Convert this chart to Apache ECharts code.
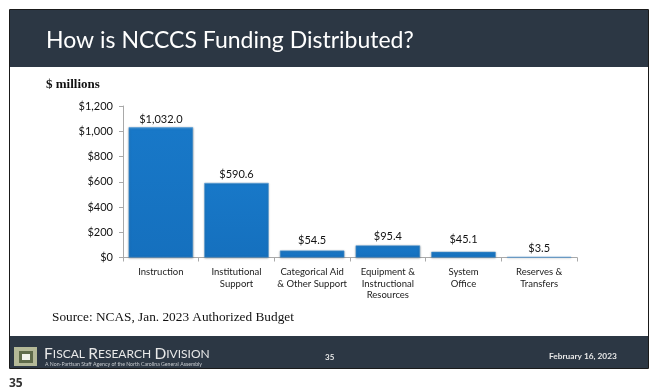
<!DOCTYPE html>
<html>
<head>
    <meta charset="utf-8">
    <title>How is NCCCS Funding Distributed?</title>
    <script src="https://cdn.jsdelivr.net/npm/echarts@6/dist/echarts.min.js"></script>
    <style>
        body, html { margin: 0; padding: 0; width: 100%; height: 100%; overflow: hidden; background: #fff; }
        #main { width: 658px; height: 391px; }
    </style>
</head>
<body>
    <div id="main"></div>
    <script>
        var myChart = echarts.init(document.getElementById('main'));

        const categories = ['Instruction', 'Institutional\nSupport', 'Categorical Aid\n& Other Support',
            'Equipment &\nInstructional\nResources', 'System\nOffice', 'Reserves &\nTransfers'];
        const funding = [1032.0, 590.6, 54.5, 95.4, 45.1, 3.5];
        const yTicks = { min: 0, max: 1200, interval: 200 };
        // labels were hand placed on the slide, so the gap differs per bar
        const labelGaps = [2, 2.5, 5, 3.5, 7, 3];

        const navy = '#2c3744';
        const gill = 'Lato, "Open Sans", sans-serif';
        const serif = '"Liberation Serif", serif';

        function money(v) {
            return '$' + v.toLocaleString('en-US');
        }

        const option = {
            backgroundColor: '#fff',
            animation: false,
            grid: { left: 123, right: 81, top: 106, bottom: 133.5, containLabel: false },
            xAxis: {
                type: 'category',
                data: categories,
                axisLine: { lineStyle: { color: '#a9a9a9', width: 1 } },
                axisTick: { show: true, length: 4, alignWithLabel: false, lineStyle: { color: '#a9a9a9' } },
                axisLabel: { color: '#1a1a1a', fontFamily: gill, fontSize: 9.5, lineHeight: 11.5, margin: 9, interval: 0 }
            },
            yAxis: {
                type: 'value',
                min: yTicks.min,
                max: yTicks.max,
                interval: yTicks.interval,
                splitLine: { show: false },
                axisLine: { show: true, lineStyle: { color: '#a9a9a9', width: 1 } },
                axisTick: { show: true, length: 4, lineStyle: { color: '#a9a9a9' } },
                axisLabel: { color: '#111', fontFamily: gill, fontSize: 11, margin: 10, formatter: money }
            },
            series: [{
                type: 'bar',
                data: funding.map((v, i) => ({ value: v, label: { distance: labelGaps[i] } })),
                barCategoryGap: '15%',
                itemStyle: {
                    color: new echarts.graphic.LinearGradient(0, 0, 0, 1, [
                        { offset: 0, color: '#3f9be4' },
                        { offset: 0.02, color: '#1878c8' },
                        { offset: 1, color: '#1570be' }
                    ]),
                    borderColor: '#4a98d8',
                    borderWidth: 0.5,
                    shadowColor: 'rgba(80,80,80,0.55)',
                    shadowBlur: 2,
                    shadowOffsetY: 0.5
                },
                label: {
                    show: true,
                    position: 'top',
                    color: '#111',
                    fontFamily: gill,
                    fontSize: 11,
                    formatter: p => '$' + p.value.toLocaleString('en-US', { minimumFractionDigits: 1, maximumFractionDigits: 1 })
                }
            }],
            graphic: [
                // slide frame, header and footer bands
                { type: 'rect', z: -1, shape: { x: 9.5, y: 9.5, width: 639, height: 359 }, style: { fill: '#fff', stroke: '#1a1a1a', lineWidth: 1 } },
                { type: 'rect', z: 0, shape: { x: 10, y: 10, width: 638, height: 57 }, style: { fill: navy } },
                { type: 'rect', z: 0, shape: { x: 10, y: 336, width: 638, height: 32 }, style: { fill: navy } },
                { type: 'text', z: 1, x: 46, y: 29, style: { text: 'How is NCCCS Funding Distributed?', fill: '#fff', font: '23px ' + gill } },
                { type: 'text', z: 1, x: 46, y: 78, style: { text: '$ millions', fill: '#111', font: 'bold 13px ' + serif } },
                { type: 'text', z: 1, x: 52, y: 311, style: { text: 'Source: NCAS, Jan. 2023 Authorized Budget', fill: '#111', font: '13.3px ' + serif } },
                // logo
                { type: 'rect', z: 1, shape: { x: 14, y: 347, width: 23, height: 19 }, style: { fill: '#b4b998' } },
                { type: 'rect', z: 1, shape: { x: 19, y: 351, width: 14, height: 12 }, style: { fill: '#5f6b4a' } },
                { type: 'rect', z: 1, shape: { x: 22, y: 354, width: 8, height: 6 }, style: { fill: '#f2f3ec' } },
                {
                    type: 'text', z: 1, x: 44, y: 346,
                    style: {
                        text: '{b|F}{s|ISCAL} {b|R}{s|ESEARCH} {b|D}{s|IVISION}',
                        rich: {
                            b: { fill: '#e8e8e8', font: '15.5px ' + gill },
                            s: { fill: '#e8e8e8', font: '12px ' + gill }
                        }
                    }
                },
                { type: 'text', z: 1, x: 45, y: 362, style: { text: 'A Non-Partisan Staff Agency of the North Carolina General Assembly', fill: '#c9ccd0', font: '5.2px ' + gill } },
                { type: 'text', z: 1, x: 325, y: 353, style: { text: '35', fill: '#e8e8e8', font: 'bold 8px ' + gill } },
                { type: 'text', z: 1, x: 549, y: 352, style: { text: 'February 16, 2023', fill: '#e8e8e8', font: 'bold 8.3px ' + gill } },
                { type: 'text', z: 1, x: 9, y: 378, style: { text: '35', fill: '#333', font: 'bold 12px "Open Sans", sans-serif' } }
            ]
        };

        myChart.setOption(option);
    </script>
</body>
</html>
